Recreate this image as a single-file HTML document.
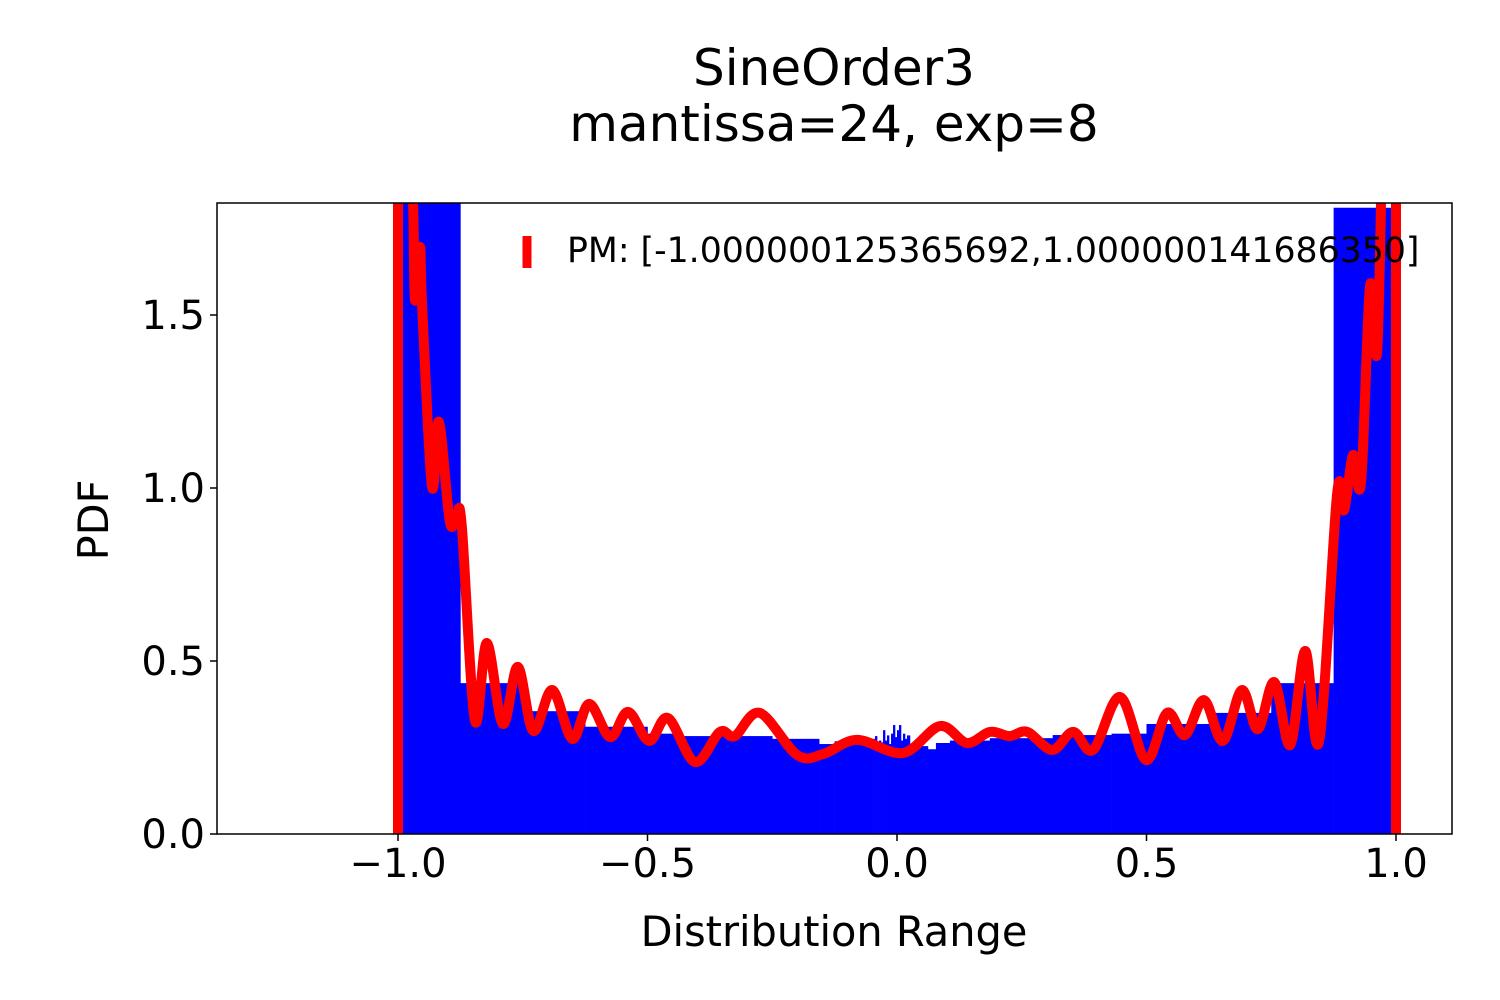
<!DOCTYPE html>
<html><head><meta charset="utf-8"><style>
html,body{margin:0;padding:0;background:#fff}
svg{display:block;font-family:"DejaVu Sans","Liberation Sans",sans-serif}
</style></head><body>
<svg id="chart" width="1500" height="1000" viewBox="0 0 1500 1000">
<defs><clipPath id="plotclip"><rect x="217" y="203" width="1235" height="631"/></clipPath></defs>
<rect width="1500" height="1000" fill="#fff"/>
<text x="834" y="85" font-size="50" text-anchor="middle">SineOrder3</text>
<text x="834" y="141" font-size="50" text-anchor="middle">mantissa=24, exp=8</text>
<g id="bars" clip-path="url(#plotclip)"></g>
<g id="lines" clip-path="url(#plotclip)"></g>
<rect x="217" y="203" width="1235" height="631" fill="none" stroke="#000" stroke-width="1.5"/>
<g id="xticks"></g>
<g id="yticks"></g>
<text x="834" y="946" font-size="41.5" text-anchor="middle">Distribution Range</text>
<text x="0" y="0" font-size="41.5" text-anchor="middle" transform="translate(108,520) rotate(-90)">PDF</text>
<g>
<line x1="527" y1="236" x2="527" y2="268" stroke="#f00" stroke-width="9"/>
<text x="567" y="262" font-size="34.7">PM: [-1.000000125365692,1.000000141686350]</text>
</g>
</svg>
<script>
const binEdges=[-1.0,-0.875,-0.75,-0.625,-0.5,-0.4375,-0.25,-0.156,-0.125,-0.048,-0.044,-0.040,-0.036,-0.032,-0.028,-0.024,-0.020,-0.016,-0.012,-0.008,-0.004,0.0,0.004,0.008,0.012,0.016,0.020,0.026,0.062,0.078,0.106,0.186,0.312,0.43,0.5,0.625,0.75,0.875,0.99];
const binHeights=[2.5,0.436,0.355,0.31,0.29,0.283,0.275,0.26,0.268,0.275,0.283,0.265,0.27,0.265,0.30,0.27,0.285,0.26,0.29,0.315,0.28,0.30,0.315,0.27,0.29,0.275,0.285,0.254,0.245,0.263,0.27,0.277,0.286,0.29,0.318,0.35,0.436,1.81];
const curveX=[-0.980,-0.970,-0.966,-0.956,-0.952,-0.932,-0.918,-0.896,-0.882,-0.872,-0.846,-0.822,-0.790,-0.760,-0.729,-0.691,-0.651,-0.617,-0.575,-0.539,-0.497,-0.459,-0.405,-0.355,-0.325,-0.275,-0.200,-0.148,-0.080,0.012,0.086,0.140,0.186,0.226,0.261,0.311,0.353,0.393,0.447,0.499,0.541,0.577,0.615,0.653,0.691,0.723,0.756,0.788,0.818,0.846,0.882,0.896,0.914,0.930,0.948,0.962,0.972];
const curveY=[2.035,1.832,1.543,1.697,1.538,1.006,1.191,0.902,0.925,0.887,0.329,0.552,0.318,0.483,0.298,0.416,0.275,0.376,0.280,0.353,0.269,0.335,0.208,0.295,0.283,0.350,0.228,0.231,0.272,0.234,0.312,0.263,0.295,0.283,0.295,0.243,0.295,0.243,0.396,0.214,0.350,0.286,0.387,0.269,0.416,0.303,0.439,0.257,0.529,0.269,0.983,0.936,1.095,1.017,1.584,1.390,1.977];
const boundLines=[-1.000000125365692,1.000000141686350];
const xTicks=[-1.0,-0.5,0.0,0.5,1.0];
const xTickLabels=["\u22121.0","\u22120.5","0.0","0.5","1.0"];
const yTicks=[0,0.5,1.0,1.5];
const yTickLabels=["0.0","0.5","1.0","1.5"];

const NS="http://www.w3.org/2000/svg";
const sx=v=>897+v*499;
const sy=v=>834-v*346;
function mk(tag,attrs,parent){const e=document.createElementNS(NS,tag);for(const k in attrs)e.setAttribute(k,attrs[k]);parent.appendChild(e);return e;}
const bars=document.getElementById('bars');
for(let i=0;i<binHeights.length;i++){
  const x0=sx(binEdges[i]),x1=sx(binEdges[i+1]),y=sy(binHeights[i]);
  const r=mk('rect',{x:x0,y:y,width:x1-x0+0.3,height:834-y,fill:'#00f'},bars);
  
  
}
const lines=document.getElementById('lines');
for(const b of boundLines){
  const l=mk('line',{x1:sx(b),x2:sx(b),y1:834,y2:203,stroke:'#f00','stroke-width':10},lines);
  
  
}
const pts=curveX.map((x,i)=>[sx(x),sy(curveY[i])]);
let d=`M${pts[0][0]},${pts[0][1]}`;
for(let i=0;i<pts.length-1;i++){
  const p0=pts[Math.max(0,i-1)],p1=pts[i],p2=pts[i+1],p3=pts[Math.min(pts.length-1,i+2)];
  const c1=[p1[0]+(p2[0]-p0[0])/6,p1[1]+(p2[1]-p0[1])/6];
  const c2=[p2[0]-(p3[0]-p1[0])/6,p2[1]-(p3[1]-p1[1])/6];
  d+=` C${c1[0]},${c1[1]} ${c2[0]},${c2[1]} ${p2[0]},${p2[1]}`;
}
const path=mk('path',{d:d,fill:'none',stroke:'#f00','stroke-width':10,'stroke-linejoin':'round','stroke-linecap':'round'},lines);


const xg=document.getElementById('xticks');
xTicks.forEach((v,i)=>{
  const t=mk('line',{x1:sx(v),x2:sx(v),y1:834,y2:841,stroke:'#000','stroke-width':1.5},xg);
  
  
  const tx=mk('text',{x:sx(v),y:877,'font-size':40,'text-anchor':'middle'},xg);
  tx.textContent=xTickLabels[i];
  
  
});
const yg=document.getElementById('yticks');
yTicks.forEach((v,i)=>{
  const t=mk('line',{x1:210,x2:217,y1:sy(v),y2:sy(v),stroke:'#000','stroke-width':1.5},yg);
  
  
  const tx=mk('text',{x:205,y:sy(v)+14,'font-size':40,'text-anchor':'end'},yg);
  tx.textContent=yTickLabels[i];
  
  
});
</script>
</body></html>
